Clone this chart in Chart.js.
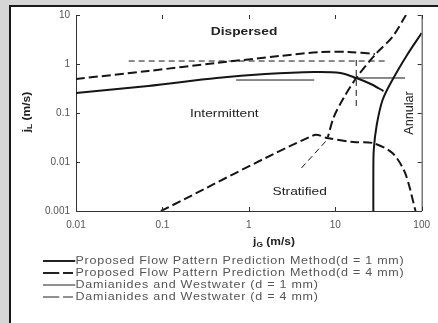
<!DOCTYPE html>
<html>
<head>
<meta charset="utf-8">
<script src="https://cdn.jsdelivr.net/npm/chart.js@4.4.1/dist/chart.umd.min.js"></script>
<style>
  body { margin: 0; width: 438px; height: 323px; overflow: hidden; background: #d6d6d6; position: relative;
         font-family: "Liberation Sans", Arial, sans-serif; }
  #frame { position: absolute; left: 9px; top: 5px; width: 440px; height: 330px; background: #fff;
           border-left: 2px solid #1a1a1a; border-top: 2px solid #1a1a1a; }
  #chart { position: absolute; left: 0; top: 0; }
  #legend { position: absolute; left: 43px; top: 255px; font-size: 10px; color: #555; letter-spacing: 0.6px;
            transform: scaleX(1.25); transform-origin: 0 0; }
  .row { height: 12px; line-height: 12px; white-space: nowrap; }
  .row svg { vertical-align: middle; }
</style>
</head>
<body>
<div id="frame"></div>
<canvas id="chart" width="438" height="323"></canvas>
<div id="legend"></div>
<script>
// axis ticks
const xTicks = [0.01, 0.1, 1, 10, 100];
const yTicks = [0.001, 0.01, 0.1, 1, 10];

// Proposed method, d = 1 mm (thick solid)
const propD1_ID_jG = [0.01, 0.0686, 0.424, 1.56, 5.71, 11.5, 17.5, 25.8, 36.2];
const propD1_ID_jL = [0.256, 0.356, 0.518, 0.625, 0.687, 0.655, 0.518, 0.391, 0.281];
const propD1_IA_jG = [100, 67.8, 45.8, 35.3, 30.2, 27.9, 27.6, 27.6];
const propD1_IA_jL = [4.3, 1.53, 0.471, 0.184, 0.0569, 0.0176, 0.005, 0.001];

// Proposed method, d = 4 mm (thick dashed)
const propD4_ID_jG = [0.01, 0.0686, 0.424, 2.30, 6.86, 14.2, 28.7];
const propD4_ID_jL = [0.494, 0.72, 1.05, 1.46, 1.76, 1.76, 1.60];
const propD4_IA_jG = [65.9, 45.8, 29.4, 17.5, 12.5, 9.62, 8.22];
const propD4_IA_jL = [10, 3.56, 1.60, 0.518, 0.202, 0.0828, 0.0324];
const strat_jG = [0.0961, 5.71, 8.01, 16.2, 27.2, 45.8, 64.3, 85];
const strat_jL = [0.001, 0.0356, 0.0309, 0.0256, 0.0244, 0.0153, 0.00597, 0.001];

// Damianides and Westwater, d = 1 mm (thin solid)
const dw1a_jG = [0.713, 5.71];
const dw1a_jL = [0.471, 0.471];
const dw1b_jG = [16.2, 64.3];
const dw1b_jL = [0.518, 0.518];

// Damianides and Westwater, d = 4 mm (thin dashed)
const dw4a_jG = [0.0407, 38.2];
const dw4a_jL = [1.15, 1.15];
const dw4b_jG = [17.5, 17.5];
const dw4b_jL = [1.21, 0.132];
const dw4c_jG = [4.07, 8.01];
const dw4c_jL = [0.00755, 0.0281];

const legendLabels = [
    'Proposed Flow Pattern Prediction Method(d = 1 mm)',
    'Proposed Flow Pattern Prediction Method(d = 4 mm)',
    'Damianides and Westwater (d = 1 mm)',
    'Damianides and Westwater (d = 4 mm)'
];

// region names, placed in data coordinates
const regions = [
    { text: 'Dispersed', x: 0.88, y: 4.5, bold: true },
    { text: 'Intermittent', x: 0.52, y: 0.095 },
    { text: 'Stratified', x: 3.88, y: 0.00245 },
    { text: 'Annular', x: 72, y: 0.1, rotate: true }
];

const styles = {
    thickSolid: { borderWidth: 2, borderDash: [] },
    thickDash:  { borderWidth: 2, borderDash: [9, 4] },
    thinSolid:  { borderWidth: 1, borderDash: [] },
    thinDash:   { borderWidth: 1, borderDash: [6, 4] }
};

function pts(xs, ys) {
    return xs.map((x, i) => ({ x: x, y: ys[i] }));
}

function curve(xs, ys, style, tension) {
    return Object.assign({
        data: pts(xs, ys),
        showLine: true,
        borderColor: '#151515',
        pointRadius: 0,
        tension: tension || 0,
        fill: false
    }, styles[style]);
}

const datasets = [
    curve(propD1_ID_jG, propD1_ID_jL, 'thickSolid', 0.3),
    curve(propD1_IA_jG, propD1_IA_jL, 'thickSolid', 0.3),
    curve(propD4_ID_jG, propD4_ID_jL, 'thickDash', 0.3),
    curve(propD4_IA_jG, propD4_IA_jL, 'thickDash', 0.3),
    curve(strat_jG, strat_jL, 'thickDash', 0.3),
    curve(dw1a_jG, dw1a_jL, 'thinSolid'),
    curve(dw1b_jG, dw1b_jL, 'thinSolid'),
    curve(dw4a_jG, dw4a_jL, 'thinDash'),
    curve(dw4b_jG, dw4b_jL, 'thinDash'),
    curve(dw4c_jG, dw4c_jL, 'thinDash')
];

// ticks inside the box, right border, axis titles, region names
const decorations = {
    id: 'decorations',
    afterDraw(chart) {
        const ctx = chart.ctx;
        const a = chart.chartArea;
        const xs = chart.scales.x, ys = chart.scales.y;
        ctx.save();
        ctx.strokeStyle = '#333';
        ctx.lineWidth = 1;
        ctx.beginPath();
        ctx.moveTo(a.right + 0.5, a.top);
        ctx.lineTo(a.right + 0.5, a.bottom);
        xTicks.forEach(v => {
            const p = Math.round(xs.getPixelForValue(v)) + 0.5;
            ctx.moveTo(p, a.bottom); ctx.lineTo(p, a.bottom - 4);
            ctx.moveTo(p, a.top); ctx.lineTo(p, a.top + 4);
        });
        yTicks.forEach(v => {
            const p = Math.round(ys.getPixelForValue(v)) + 0.5;
            ctx.moveTo(a.left, p); ctx.lineTo(a.left + 4, p);
            ctx.moveTo(a.right, p); ctx.lineTo(a.right - 4, p);
        });
        ctx.stroke();

        // region names (the scan is stretched a little sideways)
        ctx.fillStyle = '#222';
        ctx.textAlign = 'center';
        ctx.textBaseline = 'middle';
        regions.forEach(r => {
            ctx.font = (r.bold ? 'bold ' : '') + '11px "Liberation Sans", Arial, sans-serif';
            const px = xs.getPixelForValue(r.x), py = ys.getPixelForValue(r.y);
            ctx.save();
            ctx.translate(px, py);
            if (r.rotate) { ctx.rotate(-Math.PI / 2); ctx.scale(1.15, 1.1); }
            else ctx.scale(1.25, 1);
            ctx.fillText(r.text, 0, 0);
            ctx.restore();
        });

        // axis titles with subscripts
        function subTitle(main, sub, rest, cx, cy, rot) {
            ctx.save();
            ctx.translate(cx, cy);
            if (rot) ctx.rotate(-Math.PI / 2);
            ctx.scale(1.2, 1);
            const big = 'bold 10px "Liberation Sans", Arial, sans-serif';
            const small = 'bold 7px "Liberation Sans", Arial, sans-serif';
            ctx.font = big; const w1 = ctx.measureText(main).width, w3 = ctx.measureText(rest).width;
            ctx.font = small; const w2 = ctx.measureText(sub).width;
            let x = -(w1 + w2 + w3) / 2;
            ctx.textAlign = 'left';
            ctx.font = big; ctx.fillText(main, x, 0); x += w1;
            ctx.font = small; ctx.fillText(sub, x, 3); x += w2;
            ctx.font = big; ctx.fillText(rest, x, 0);
            ctx.restore();
        }
        subTitle('j', 'G', ' (m/s)', 274, 242, false);
        subTitle('j', 'L', ' (m/s)', 27, 112, true);
        ctx.restore();
    }
};

new Chart(document.getElementById('chart'), {
    type: 'scatter',
    data: { datasets: datasets },
    options: {
        responsive: false,
        animation: false,
        layout: { padding: { left: 10, right: 8, top: 15, bottom: 72 } },
        plugins: { legend: { display: false }, tooltip: { enabled: false } },
        scales: {
            x: {
                type: 'logarithmic',
                min: 0.01,
                max: 100,
                afterBuildTicks: s => { s.ticks = xTicks.map(v => ({ value: v })); },
                afterFit: s => { s.height = 40; },
                ticks: { color: '#555', padding: 8, font: { size: 10 }, callback: v => String(v), maxRotation: 0 },
                grid: { display: false, drawTicks: false },
                border: { display: true, color: '#333', width: 1 }
            },
            y: {
                type: 'logarithmic',
                min: 0.001,
                max: 10,
                afterBuildTicks: s => { s.ticks = yTicks.map(v => ({ value: v })); },
                afterFit: s => { s.width = 66; },
                ticks: { color: '#555', padding: 6, font: { size: 10 }, callback: v => String(v) },
                grid: { display: false, drawTicks: false },
                border: { display: true, color: '#333', width: 1 }
            }
        }
    },
    plugins: [decorations]
});

// legend below the plot
const legendStyles = ['thickSolid', 'thickDash', 'thinSolid', 'thinDash'];
const legend = document.getElementById('legend');
legendLabels.forEach((label, i) => {
    const st = styles[legendStyles[i]];
    const row = document.createElement('div');
    row.className = 'row';
    row.innerHTML = '<svg width="26" height="6"><line x1="0" y1="3" x2="26" y2="3" stroke="#222" stroke-width="' +
        st.borderWidth + '" stroke-dasharray="' + (st.borderDash.length ? '13,3,8,2' : 'none') + '"/></svg>' +
        '<span>' + label + '</span>';
    legend.appendChild(row);
});
</script>
</body>
</html>
